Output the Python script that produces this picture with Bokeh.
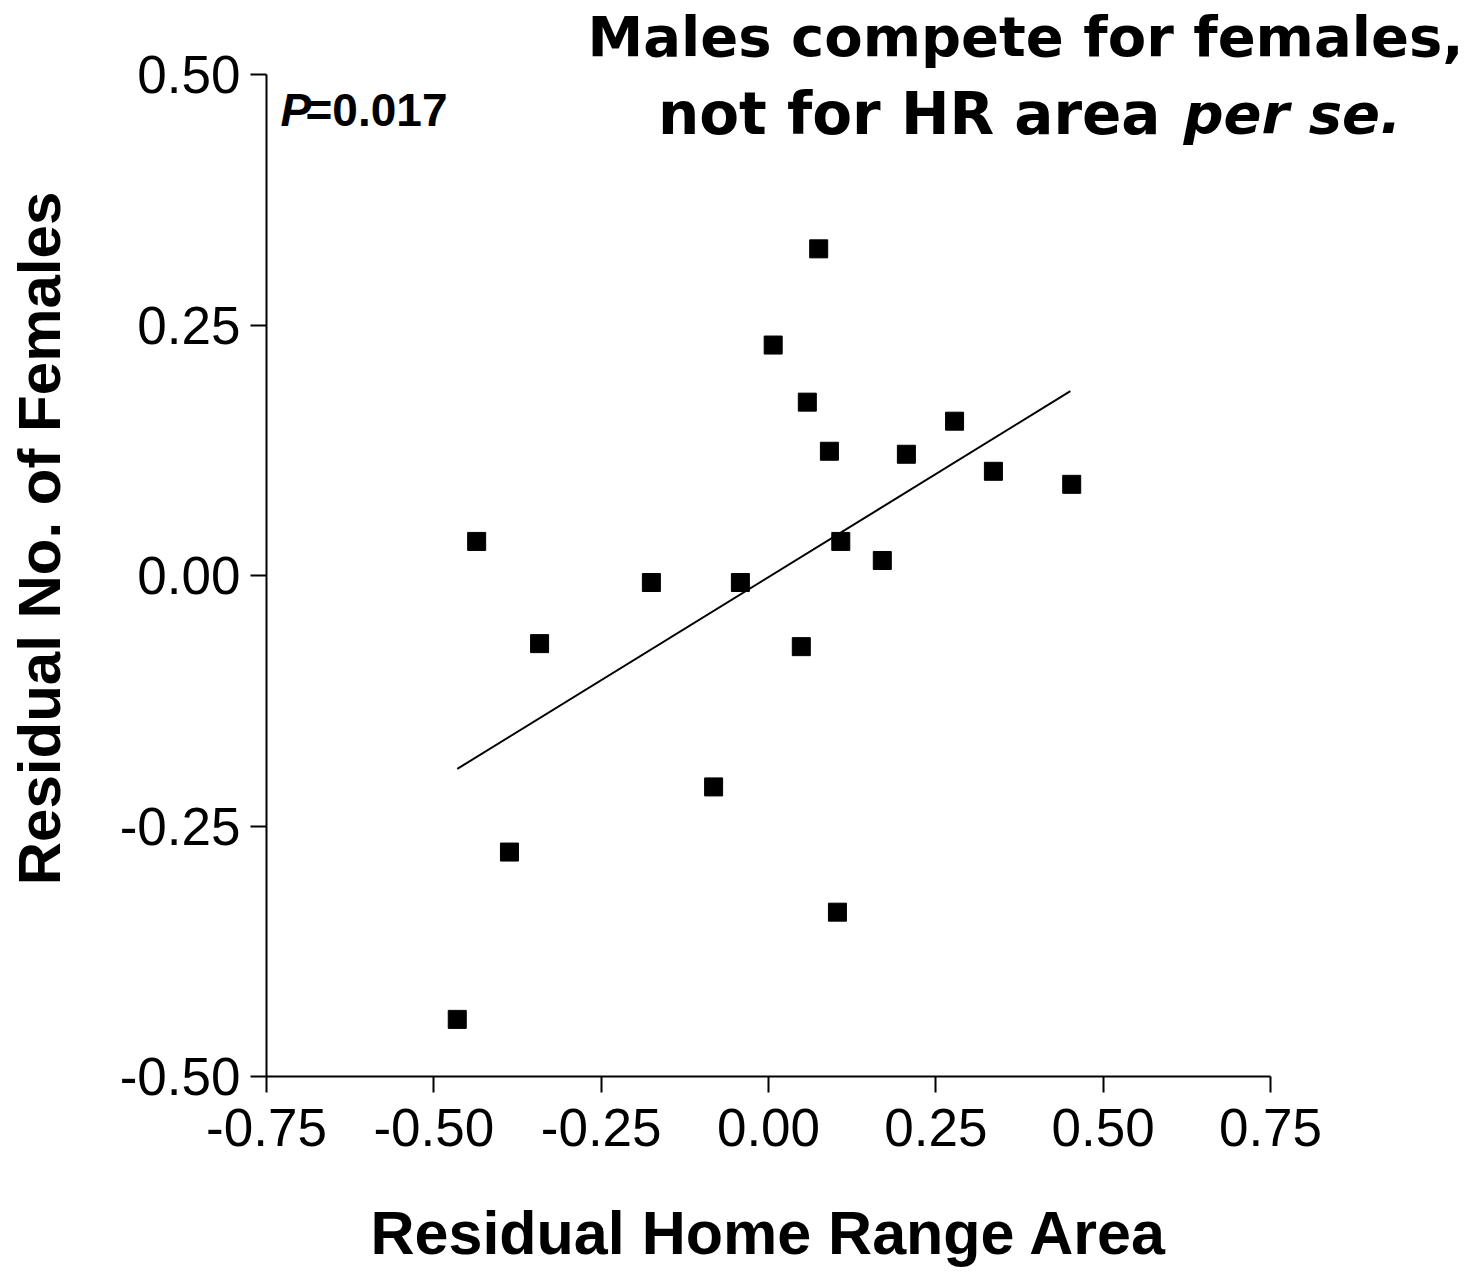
from bokeh.plotting import figure
from bokeh.models import Label, Range1d, FixedTicker, CustomJSTickFormatter, Title
from bokeh.embed import file_html
from bokeh.resources import INLINE

# Data
res_hr_area = [-0.436, -0.387, -0.465, -0.342, -0.175, -0.042, -0.082, 0.007, 0.075, 0.058,
               0.091, 0.049, 0.108, 0.103, 0.170, 0.206, 0.278, 0.336, 0.453]
res_females = [0.034, -0.276, -0.443, -0.068, -0.007, -0.007, -0.211, 0.230, 0.326, 0.173,
               0.124, -0.071, 0.034, -0.336, 0.015, 0.121, 0.154, 0.104, 0.091]
fit_x = [-0.465, 0.451]
fit_y = [-0.193, 0.184]
x_ticks = [-0.75, -0.5, -0.25, 0.0, 0.25, 0.5, 0.75]
y_ticks = [-0.5, -0.25, 0.0, 0.25, 0.5]

AX_FONT = "Liberation Sans"
W, H = 1468, 1274
LEFT, BOTTOM = 266, 198
PX_X = (1270 - 266) / 1.5      # pixels per x unit
PX_Y = (1076 - 74) / 1.0       # pixels per y unit

# frame spans to top/right canvas edges so that annotations are not clipped;
# the axes themselves are bounded to the original data window
x_end = 0.75 + (W - 1270) / PX_X
y_end = 0.5 + 74 / PX_Y

def px_x(px):
    return -0.75 + (px - LEFT) / PX_X

def px_y(py):
    return 0.5 - (py - 74) / PX_Y

p = figure(width=W, height=H, output_backend="svg", toolbar_location=None,
           x_range=Range1d(-0.75, x_end), y_range=Range1d(-0.5, y_end),
           min_border_left=LEFT, min_border_right=0, min_border_top=0, min_border_bottom=BOTTOM)
p.outline_line_color = None
p.xgrid.visible = False
p.ygrid.visible = False
p.background_fill_color = "white"
p.border_fill_color = "white"

fmt = CustomJSTickFormatter(code="return tick.toFixed(2);")
for ax, ticks, bnds in ((p.xaxis[0], x_ticks, (-0.75, 0.75)), (p.yaxis[0], y_ticks, (-0.5, 0.5))):
    ax.ticker = FixedTicker(ticks=ticks)
    ax.bounds = bnds
    ax.formatter = fmt
    ax.minor_tick_line_color = None
    ax.major_tick_in = 0
    ax.major_tick_out = 16
    ax.major_tick_line_width = 2
    ax.axis_line_width = 2
    ax.axis_line_color = "black"
    ax.major_tick_line_color = "black"
    ax.major_label_text_font = AX_FONT
    ax.major_label_text_font_size = "53px"
    ax.major_label_text_color = "black"
    ax.axis_label_text_font = AX_FONT
    ax.axis_label_text_font_size = "60px"
    ax.axis_label_text_font_style = "bold"
    ax.axis_label_text_color = "black"

p.yaxis.axis_label = "Residual No. of Females"
p.xaxis.major_label_standoff = 16
p.yaxis.major_label_standoff = 10
p.yaxis.axis_label_standoff = 44
# spacer (blank, tiny) axis label to push the x title down below the tick labels
p.xaxis.axis_label = " "
p.xaxis.axis_label_text_font_size = "1px"
p.xaxis.axis_label_standoff = 44

# x-axis title, placed under the bounded axis (centred on the -0.75..0.75 span)
p.add_layout(Title(text="Residual Home Range Area", align="left", offset=104,
                   text_font=AX_FONT, text_font_size="61px", text_font_style="bold",
                   text_color="black", standoff=0), "below")

p.line(fit_x, fit_y, line_color="black", line_width=2)
p.scatter(res_hr_area, res_females, marker="square", size=18, fill_color="black", line_color="black")

TITLE_FONT = "DejaVu Sans"
TFS = 56
shift = 0.39 * TFS
p.add_layout(Label(x=px_x(1025), y=px_y(58 - shift), text="Males compete for females,",
                   text_font=TITLE_FONT, text_font_style="bold", text_font_size=f"{TFS}px",
                   text_align="center", text_baseline="alphabetic", text_color="black"))
p.add_layout(Label(x=px_x(1160), y=px_y(135 - shift), text="not for HR area",
                   text_font=TITLE_FONT, text_font_style="bold", text_font_size="58px",
                   text_align="right", text_baseline="alphabetic", text_color="black"))
p.add_layout(Label(x=px_x(1183), y=px_y(135 - shift), text="per se.",
                   text_font=TITLE_FONT, text_font_style="bold italic", text_font_size=f"{TFS}px",
                   text_align="left", text_baseline="alphabetic", text_color="black"))

PFS = 46
pshift = 0.37 * PFS
p.add_layout(Label(x=px_x(280), y=px_y(127 - pshift), text="P",
                   text_font=AX_FONT, text_font_style="bold italic", text_font_size=f"{PFS}px",
                   text_align="left", text_baseline="alphabetic", text_color="black"))
p.add_layout(Label(x=px_x(305), y=px_y(127 - pshift), text="=0.017",
                   text_font=AX_FONT, text_font_style="bold", text_font_size=f"{PFS}px",
                   text_align="left", text_baseline="alphabetic", text_color="black"))

open("out.html", "w").write(file_html(p, INLINE))
